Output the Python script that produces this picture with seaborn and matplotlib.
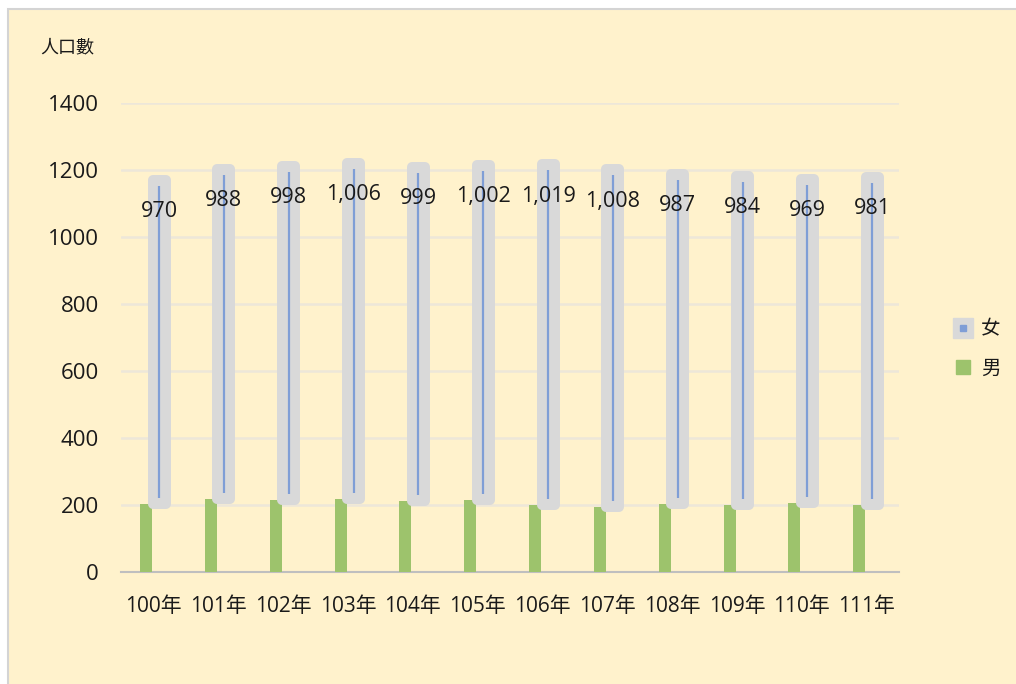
import numpy as np
import pandas as pd
import matplotlib
matplotlib.use("Agg")
import matplotlib.pyplot as plt
from matplotlib.patches import Rectangle
from matplotlib.lines import Line2D
import seaborn as sns

# ---- data ----
years = ["100年", "101年", "102年", "103年", "104年", "105年",
         "106年", "107年", "108年", "109年", "110年", "111年"]
male = [202, 217, 215, 217, 211, 214, 199, 195, 203, 199, 205, 199]
female = [970, 988, 998, 1006, 999, 1002, 1019, 1008, 987, 984, 969, 981]
yticks = [0, 200, 400, 600, 800, 1000, 1200, 1400]

sns.set_theme(style="white")
plt.rcParams['font.family'] = ['Open Sans', 'Noto Sans CJK TC', 'DejaVu Sans']

BG = "#FFF2CC"
GREEN = "#9DC36C"
GREY = "#D9D9D9"
BLUE = "#7F9ED6"
TXT = "#1a1a1a"

fig = plt.figure(figsize=(10.16, 6.84), dpi=100)
fig.patch.set_facecolor("white")
# chart area frame
frame = Rectangle((8 / 1016, -0.05), 1.1, 1 - 9 / 684 + 0.05,
                  transform=fig.transFigure, facecolor=BG,
                  edgecolor="#D4D4D4", linewidth=1.5, zorder=-10)
fig.add_artist(frame)

ax = fig.add_axes([121 / 1016, 1 - 572 / 684, (899 - 121) / 1016, (572 - 103.3) / 684])
ax.set_facecolor("none")

df = pd.DataFrame({"year": years, "male": male, "female": female})
x = np.arange(len(years))

# male bars (seaborn)
sns.barplot(data=df, x="year", y="male", color=GREEN, width=0.185,
            saturation=1, ax=ax, zorder=3)
for p in ax.patches:
    p.set_x(p.get_x() - 0.114)
    p.set_edgecolor("none")

# female stacked bars: grey glow + blue line
off = 0.087
ax.bar(x + off, female, bottom=male, width=0.2, color=GREY, edgecolor=GREY,
       linewidth=7.2, joinstyle="round", zorder=3)
tot = np.array(male) + np.array(female)
inset = 18
ax.vlines(x + off, np.array(male) + inset, tot - inset, color=BLUE, linewidth=1.6, zorder=4)

for xi, t, f in zip(x, tot, female):
    ax.annotate(f"{f:,}", (xi + off, t), xytext=(0, -23), textcoords="offset points",
                ha="center", va="center", fontsize=15.5, color=TXT, zorder=5)

ax.set_xlim(-0.5, len(years) - 0.5)
ax.set_ylim(0, 1400)
ax.set_yticks(yticks)
ax.set_yticklabels([str(v) for v in yticks])
ax.grid(axis="y", color="#EDE7D9", linewidth=1.8, zorder=0)
ax.set_axisbelow(True)
for s in ["top", "right", "left"]:
    ax.spines[s].set_visible(False)
ax.spines["bottom"].set_color("#BFBFBF")
ax.spines["bottom"].set_linewidth(1.5)
ax.tick_params(axis="y", length=0, pad=16, labelsize=16, labelcolor=TXT)
ax.tick_params(axis="x", length=0, pad=17, labelsize=15, labelcolor=TXT)
ax.set_xlabel("")
ax.set_ylabel("")

fig.text(40 / 1016, 1 - 47 / 684, "人口數", fontsize=13, color=TXT,
         ha="left", va="center")

# legend
h_f = Line2D([0], [0], marker="s", markersize=14, markerfacecolor=GREY,
             markeredgecolor=GREY, linestyle="none")
h_f2 = Line2D([0], [0], marker="s", markersize=4, markerfacecolor=BLUE,
              markeredgecolor=BLUE, linestyle="none")
h_m = Line2D([0], [0], marker="s", markersize=10, markerfacecolor=GREEN,
             markeredgecolor=GREEN, linestyle="none")
fig.legend([(h_f, h_f2), h_m], ["女", "男"], loc="center left",
           bbox_to_anchor=(936 / 1016, 1 - 349 / 684), frameon=False,
           fontsize=14, handlelength=1.0, handletextpad=0.4, labelspacing=1.1,
           labelcolor=TXT)

fig.savefig("out.png", dpi=100, facecolor=fig.get_facecolor())
